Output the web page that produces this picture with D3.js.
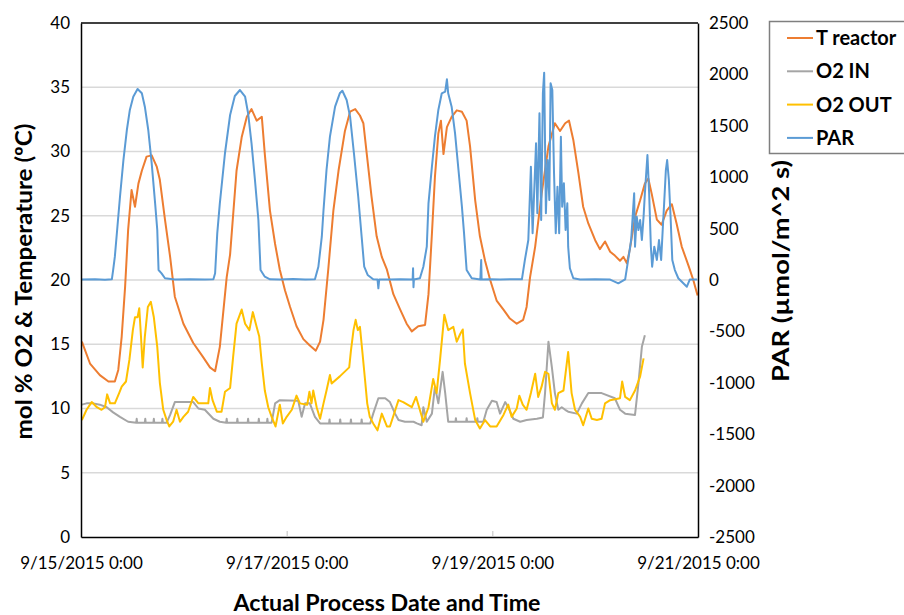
<!DOCTYPE html>
<html>
<head>
<meta charset="utf-8">
<script src="https://cdn.jsdelivr.net/npm/d3@7"></script>
<style>
  html, body { margin: 0; padding: 0; background: #fff; }
  svg text { font-family: Lato, "Open Sans", sans-serif; fill: #000; }
</style>
</head>
<body>
<div id="chart"></div>
<script>
// Hours since 9/15/2015 0:00, value
const T_REACTOR = [
  [0.2,15.2],[2.1,13.5],[4.4,12.6],[6.4,12.1],[7.9,12.1],[8.7,13.0],[9.5,15.6],[10.3,19.5],[11.0,23.9],
  [11.8,27.0],[12.6,25.7],[13.4,27.5],[14.2,28.5],[15.3,29.6],[16.5,29.7],[17.7,28.8],[18.4,27.8],
  [19.6,24.7],[20.8,21.8],[21.9,18.7],[23.9,16.6],[26.2,15.1],[28.5,14.0],[30.1,13.2],[31.3,12.9],
  [32.4,14.8],[34.0,20.2],[34.8,22.0],[36.3,28.5],[37.5,31.1],[38.7,32.7],[39.8,33.3],[41.0,32.4],
  [42.2,32.7],[42.9,29.8],[44.1,25.4],[45.3,22.8],[46.4,20.8],[47.6,19.2],[48.8,17.9],[50.3,16.4],
  [51.9,15.4],[53.4,14.9],[54.8,14.5],[55.8,15.2],[56.6,16.9],[57.7,20.8],[58.9,25.4],[60.1,28.5],
  [61.6,31.6],[62.8,33.1],[64.0,33.3],[65.1,32.8],[65.9,32.2],[66.7,29.8],[67.8,26.5],[69.0,23.4],
  [70.2,21.8],[71.4,20.8],[72.9,18.9],[74.5,17.7],[76.0,16.6],[77.2,16.0],[78.7,16.4],[80.3,16.5],
  [81.1,18.9],[81.9,23.6],[82.6,28.0],[83.4,31.4],[84.0,32.4],[84.6,29.8],[85.4,31.9],[86.5,32.7],
  [87.7,33.2],[88.9,33.1],[90.0,32.4],[90.8,30.4],[92.0,26.2],[93.1,23.4],[94.3,21.5],[95.5,20.0],
  [97.0,18.4],[98.6,17.7],[100.1,17.0],[101.7,16.6],[103.2,16.9],[104.0,17.9],[104.8,20.2],[106.0,22.6],
  [107.5,26.7],[109.1,30.4],[110.6,32.2],[111.8,31.6],[113.0,32.2],[113.9,32.4],[114.9,30.9],[116.1,28.3],
  [117.2,25.7],[118.4,24.4],[120.0,23.1],[121.1,22.4],[122.3,23.0],[123.5,22.2],[124.6,21.9],[125.8,21.5],
  [126.6,21.8],[127.4,21.3],[128.1,22.4],[129.3,24.9],[130.5,26.2],[131.6,27.5],[132.4,27.9],[133.2,26.7],
  [134.4,24.7],[135.5,24.3],[136.7,25.4],[137.9,25.9],[139.0,24.4],[140.2,22.6],[141.8,21.1],[142.9,20.0],
  [143.9,18.8]
];

const O2_IN = [
  [0.2,10.3],[1.3,10.4],[2.9,10.4],[4.4,10.3],[6.0,10.1],[7.5,9.7],[9.1,9.35],[11.0,8.97],
  [12.9,8.9],[13.0,9.2],[13.1,8.9],[14.9,8.9],[15.0,9.2],[15.1,8.9],[16.9,8.9],[17.0,9.2],[17.1,8.9],
  [18.9,8.9],[19.0,9.2],[19.1,8.9],[20.0,8.9],[20.8,9.5],[21.9,10.5],[26.2,10.5],[27.4,10.0],[28.9,9.9],
  [30.9,9.2],[32.4,8.97],[33.9,8.9],[34.0,9.2],[34.1,8.9],[36.4,8.9],[36.5,9.2],[36.6,8.9],
  [38.9,8.9],[39.0,9.2],[39.1,8.9],[41.4,8.9],[41.5,9.2],[41.6,8.9],[43.4,8.9],[43.5,9.2],[43.6,8.9],
  [44.5,8.9],[45.3,10.4],[46.4,10.65],[50.7,10.6],[51.5,9.35],[52.3,10.4],[53.4,10.4],[54.6,9.35],
  [55.8,8.84],[57.9,8.84],[58.0,9.15],[58.1,8.84],[60.4,8.84],[60.5,9.15],[60.6,8.84],[62.9,8.84],
  [63.0,9.15],[63.1,8.84],[65.4,8.84],[65.5,9.15],[65.6,8.84],[67.5,8.84],[68.2,9.6],[69.4,10.8],
  [71.0,10.8],[72.1,10.5],[73.3,9.6],[74.1,9.1],[75.6,8.97],[77.6,8.97],[78.4,8.84],[79.5,8.7],
  [79.9,10.1],[80.7,8.97],[81.9,9.6],[82.6,11.7],[83.4,10.4],[84.4,12.85],[85.0,11.2],[85.7,8.97],
  [87.4,8.97],[87.5,9.25],[87.6,8.97],[89.9,8.97],[90.0,9.25],[90.1,8.97],[92.4,8.97],[92.5,9.25],
  [92.6,8.97],[93.9,8.97],[94.7,9.9],[95.9,10.6],[97.0,10.5],[97.8,9.6],[99.0,10.5],[99.7,10.1],
  [100.9,9.2],[102.5,8.97],[104.0,9.1],[106.4,9.2],[107.8,9.3],[108.3,11.2],[109.1,15.2],[109.9,13.2],
  [110.6,11.2],[111.4,9.9],[112.2,10.1],[113.0,9.9],[113.7,9.75],[115.7,9.6],[116.9,10.4],[118.4,11.2],
  [121.5,11.2],[124.6,10.8],[125.8,9.9],[127.0,9.6],[129.3,9.5],[130.1,11.95],[130.9,14.8],[131.6,15.7]
];

const O2_OUT = [
  [0.2,9.1],[1.3,9.9],[2.5,10.5],[3.7,10.1],[4.8,9.9],[5.6,10.1],[6.1,11.1],[6.8,10.4],[7.9,10.4],
  [8.9,11.2],[9.5,11.7],[10.5,12.1],[11.3,13.8],[12.1,16.1],[12.6,17.1],[13.2,17.1],[13.6,17.8],
  [14.0,15.6],[14.4,13.2],[14.9,15.6],[15.6,17.9],[16.3,18.3],[17.0,17.1],[17.8,14.8],[18.4,12.0],
  [19.2,9.9],[20.0,9.1],[20.6,8.6],[21.5,8.97],[22.3,9.9],[23.1,8.97],[23.9,9.35],[25.0,9.75],
  [26.2,10.9],[27.4,10.4],[29.7,10.4],[30.1,11.6],[30.7,10.65],[31.7,9.75],[32.8,9.75],[33.6,11.3],
  [34.8,11.6],[35.5,14.0],[36.3,16.6],[37.5,17.7],[38.3,16.6],[39.3,16.1],[40.1,17.5],[41.0,16.35],
  [41.6,15.6],[42.2,13.5],[42.9,11.4],[43.7,10.1],[44.5,9.35],[45.4,8.6],[46.4,10.3],[47.1,8.84],
  [48.0,9.35],[49.2,9.9],[50.3,11.0],[51.1,10.4],[52.8,10.3],[53.3,11.3],[53.8,10.4],[54.2,11.4],
  [55.0,10.1],[55.8,9.2],[56.6,10.4],[57.3,11.4],[58.1,12.6],[58.5,11.95],[60.4,12.5],[62.6,13.2],
  [63.0,14.5],[63.6,16.1],[64.1,16.9],[64.6,16.1],[65.1,16.35],[65.7,14.3],[66.3,12.2],[66.8,10.4],
  [67.4,9.35],[68.2,8.84],[69.2,8.3],[70.2,9.6],[71.4,8.6],[72.1,8.6],[74.1,10.65],[75.2,10.5],
  [77.2,10.1],[78.2,10.9],[79.9,8.97],[81.1,10.1],[82.2,12.3],[83.0,11.2],[83.8,13.8],[84.8,17.3],
  [85.7,16.1],[86.9,16.35],[87.7,15.2],[88.5,15.8],[89.1,16.15],[89.6,13.5],[90.8,11.2],[92.0,9.1],
  [93.1,8.45],[94.3,9.1],[95.5,8.6],[97.0,8.6],[98.6,9.5],[99.7,10.3],[100.5,9.35],[101.7,10.0],
  [102.3,11.0],[103.1,10.3],[104.0,9.9],[105.0,11.2],[106.0,12.7],[106.7,10.9],[107.5,11.7],[108.3,12.85],
  [109.1,12.7],[109.9,10.4],[110.6,9.9],[111.4,11.2],[112.6,11.4],[113.7,14.4],[114.5,11.2],[115.3,9.9],
  [116.5,9.35],[117.2,8.7],[118.4,10.0],[119.2,9.2],[120.4,9.1],[121.5,9.2],[122.3,10.4],[123.5,10.65],
  [125.8,10.8],[126.3,12.1],[127.0,10.9],[128.1,10.65],[129.3,11.4],[130.5,12.5],[131.3,13.9]
];

const PAR = [
  [0,5],[3.3,7],[5.6,2],[7.2,7],[7.5,97],[7.9,227],[8.5,518],[9.1,810],[9.9,1167],[10.7,1459],
  [11.4,1654],[12.2,1783],[13.2,1858],[14.2,1816],[14.9,1686],[15.7,1459],[16.5,1135],[17.3,746],
  [17.8,486],[18.1,97],[18.8,65],[19.6,17],[21.9,5],[25.4,7],[28.9,4],[30.9,7],
  [31.3,65],[31.8,454],[32.4,746],[33.6,1233],[34.8,1605],[35.9,1790],[37.1,1848],[38.3,1783],
  [39.0,1622],[39.8,1330],[40.6,973],[41.4,584],[41.9,97],[42.9,32],[44.1,7],[46.4,5],[49.5,10],
  [52.3,5],[54.6,7],[55.4,129],[56.2,421],[56.6,681],[57.3,1070],[58.1,1394],[59.3,1686],[60.4,1816],
  [61.0,1841],[62.0,1751],[62.8,1589],[63.7,1233],[64.7,810],[65.5,421],[66.1,129],[66.9,49],[68.2,7],
  [69.2,5],[69.4,-81],[69.6,5],[72.1,5],[74.5,7],[77.4,5],[77.5,114],[77.6,-71],[77.7,5],[79.1,17],
  [79.9,129],[80.7,324],[81.1,746],[81.9,1102],[82.6,1394],[83.4,1654],[84.2,1816],[85.0,1832],
  [85.4,1952],[85.7,1816],[86.5,1686],[87.3,1427],[88.1,1070],[88.9,713],[89.4,454],[90.0,97],
  [91.2,17],[93.2,5],[93.4,195],[93.5,5],[95.5,7],[97.8,4],[100.1,7],[102.9,7],
  [103.6,195],[104.4,389],[105.0,1102],[105.4,454],[106.2,1330],[106.5,649],[107.0,1622],[107.4,584],
  [107.8,1816],[108.1,2017],[108.5,649],[108.9,1167],[109.3,778],[109.6,1914],[110.0,1848],[110.4,1038],
  [110.8,454],[111.2,908],[111.6,454],[112.0,1394],[112.3,713],[112.7,941],[113.1,486],[113.5,746],
  [113.7,324],[114.1,114],[114.9,17],[116.5,5],[120.0,7],[123.5,4],[125.4,-32],[127.0,7],
  [127.7,195],[128.4,389],[128.8,649],[129.1,843],[129.3,324],[129.7,616],[130.1,486],[130.5,584],
  [130.9,389],[131.3,616],[131.6,843],[132.2,1216],[132.6,843],[133.0,324],[133.3,129],[133.8,324],
  [134.4,195],[134.9,389],[135.4,195],[135.8,518],[136.1,746],[136.5,1070],[136.8,1167],[137.2,973],
  [137.6,616],[138.0,195],[138.6,97],[139.4,17],[141.4,-65],[142.1,5],[143.8,5]
];

const SERIES = [
  { name: 'T reactor', data: T_REACTOR, color: '#ED7D31', axis: 'left' },
  { name: 'O2 IN',     data: O2_IN,     color: '#A5A5A5', axis: 'left' },
  { name: 'O2 OUT',    data: O2_OUT,    color: '#FFC000', axis: 'left' },
  { name: 'PAR',       data: PAR,       color: '#5B9BD5', axis: 'right' }
];

const LEFT_TICKS = [0, 5, 10, 15, 20, 25, 30, 35, 40];
const RIGHT_TICKS = [-2500, -2000, -1500, -1000, -500, 0, 500, 1000, 1500, 2000, 2500];
const X_TICK_DAYS = [15, 17, 19, 21];

const W = 904, H = 615;
const plot = { left: 81, right: 698, top: 23, bottom: 537 };
const start = new Date(2015, 8, 15, 0, 0);
const toDate = h => new Date(start.getTime() + h * 3600 * 1000);

const svg = d3.select('#chart').append('svg')
  .attr('width', W).attr('height', H);

const x = d3.scaleTime()
  .domain([start, new Date(2015, 8, 21, 0, 0)])
  .range([plot.left, plot.right]);
const yL = d3.scaleLinear().domain([0, 40]).range([plot.bottom, plot.top]);
const yR = d3.scaleLinear().domain([-2500, 2500]).range([plot.bottom, plot.top]);

// gridlines
svg.append('g')
  .selectAll('line')
  .data(LEFT_TICKS.filter(v => v > 0 && v < 40))
  .join('line')
  .attr('x1', plot.left).attr('x2', plot.right)
  .attr('y1', d => yL(d)).attr('y2', d => yL(d))
  .attr('stroke', '#d9d9d9').attr('stroke-width', 1.3);

// lines
const line = axis => d3.line()
  .x(d => x(toDate(d[0])))
  .y(d => axis === 'left' ? yL(d[1]) : yR(d[1]));

svg.append('g').selectAll('path')
  .data(SERIES)
  .join('path')
  .attr('d', s => line(s.axis)(s.data))
  .attr('fill', 'none')
  .attr('stroke', s => s.color)
  .attr('stroke-width', 2)
  .attr('stroke-linejoin', 'round');

// top border of the plot area
svg.append('line')
  .attr('x1', plot.left).attr('x2', plot.right)
  .attr('y1', plot.top).attr('y2', plot.top)
  .attr('stroke', '#000').attr('stroke-width', 1.5);

// axes
const fmtTick = d => `${d.getMonth() + 1}/${d.getDate()}/${d.getFullYear()} 0:00`;

const gx = svg.append('g')
  .attr('transform', `translate(0,${plot.bottom})`)
  .call(d3.axisBottom(x)
    .tickValues(X_TICK_DAYS.map(dd => new Date(2015, 8, dd, 0, 0)))
    .tickSize(0).tickPadding(20)
    .tickFormat(fmtTick));
gx.select('.domain').attr('stroke', '#000').attr('stroke-width', 1.5);
gx.selectAll('text').attr('font-size', 17).attr('fill', '#000');
gx.selectAll('.tick').filter((d, i) => i > 0 && i < 3).append('line')
  .attr('y1', 0).attr('y2', -6).attr('stroke', '#bfbfbf').attr('stroke-width', 1);

const gl = svg.append('g')
  .attr('transform', `translate(${plot.left},0)`)
  .call(d3.axisLeft(yL).tickValues(LEFT_TICKS).tickSize(0).tickPadding(11));
gl.select('.domain').attr('stroke', '#000').attr('stroke-width', 1.5);
gl.selectAll('text').attr('font-size', 17).attr('fill', '#000');

const gr = svg.append('g')
  .attr('transform', `translate(${plot.right},0)`)
  .call(d3.axisRight(yR).tickValues(RIGHT_TICKS).tickSize(0).tickPadding(11)
    .tickFormat(d => String(d)));
gr.select('.domain').attr('stroke', '#000').attr('stroke-width', 1.5);
gr.selectAll('text').attr('font-size', 17).attr('fill', '#000');

// axis titles
svg.append('text')
  .attr('x', 387).attr('y', 611)
  .attr('text-anchor', 'middle')
  .attr('font-size', 23).attr('font-weight', 'bold')
  .attr('textLength', 307).attr('lengthAdjust', 'spacingAndGlyphs')
  .text('Actual Process Date and Time');

svg.append('text')
  .attr('transform', 'translate(32,281.5) rotate(-90)')
  .attr('text-anchor', 'middle')
  .attr('font-size', 23).attr('font-weight', 'bold')
  .attr('textLength', 316).attr('lengthAdjust', 'spacingAndGlyphs')
  .text('mol % O2 & Temperature (ºC)');

svg.append('text')
  .attr('transform', 'translate(789,271) rotate(-90)')
  .attr('text-anchor', 'middle')
  .attr('font-size', 23).attr('font-weight', 'bold')
  .attr('textLength', 222).attr('lengthAdjust', 'spacingAndGlyphs')
  .text('PAR (µmol/m^2 s)');

// legend
const legend = svg.append('g');
legend.append('rect')
  .attr('x', 769.5).attr('y', 21.5).attr('width', 150).attr('height', 132)
  .attr('fill', '#fff').attr('stroke', '#7f7f7f').attr('stroke-width', 1.5);
const rows = legend.selectAll('g.item')
  .data(SERIES)
  .join('g')
  .attr('class', 'item')
  .attr('transform', (d, i) => `translate(0,${38 + i * 33.3})`);
rows.append('line')
  .attr('x1', 787).attr('x2', 813)
  .attr('stroke', d => d.color).attr('stroke-width', 2);
rows.append('text')
  .attr('x', 816).attr('dy', '0.35em')
  .attr('font-size', 20).attr('font-weight', 'bold')
  .text(d => d.name);
</script>
</body>
</html>
